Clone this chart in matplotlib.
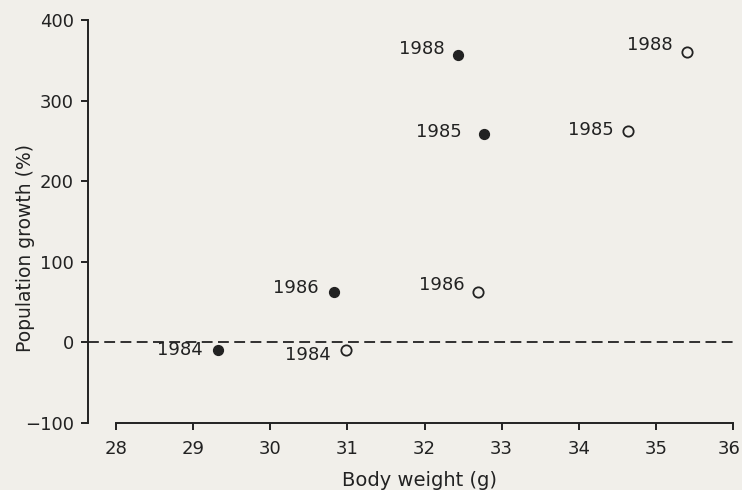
import matplotlib
matplotlib.use("Agg")
import matplotlib.pyplot as plt
from matplotlib.transforms import ScaledTranslation

plt.rcParams["font.family"] = ["DejaVu Sans"]

# body weight (g) and population growth (%) per year
years = ["1984", "1986", "1985", "1988"]
filled_weight = [29.32, 30.83, 32.77, 32.44]
filled_growth = [-10, 62, 258, 357]
open_weight = [30.98, 32.70, 34.64, 35.41]
open_growth = [-9, 62, 262, 360]

x_ticks = [28, 29, 30, 31, 32, 33, 34, 35, 36]
y_ticks = [-100, 0, 100, 200, 300, 400]

# label offsets in points (dx, dy) for filled / open points
filled_offsets = [(-11, 0), (-11, 3), (-16, 2), (-10, 4)]
open_offsets = [(-11, -4), (-10, 5), (-10, 1), (-11, 5)]

bg = "#f1efea"
ink = "#222222"
fs = 13

fig = plt.figure(figsize=(7.42, 4.90), dpi=100, facecolor=bg)
ax = fig.add_axes([88 / 742, 1 - 423 / 490, (733 - 88) / 742, (423 - 20) / 490])
ax.set_facecolor(bg)

ax.set_xlim(28 - 28 / 77.1, 36)
ax.set_ylim(-100, 400)

ax.axhline(0, color=ink, lw=1.3, linestyle=(0, (6, 3)), zorder=1)

ax.scatter(filled_weight, filled_growth, s=50, color=ink, zorder=3, clip_on=False)
ax.scatter(open_weight, open_growth, s=55, facecolor=bg, edgecolor=ink,
           linewidth=1.3, zorder=3, clip_on=False)

for yr, x, y, off in zip(years, filled_weight, filled_growth, filled_offsets):
    ax.annotate(yr, (x, y), xytext=off, textcoords="offset points",
                ha="right", va="center", fontsize=fs, color=ink)
for yr, x, y, off in zip(years, open_weight, open_growth, open_offsets):
    ax.annotate(yr, (x, y), xytext=off, textcoords="offset points",
                ha="right", va="center", fontsize=fs, color=ink)

for side in ["top", "right"]:
    ax.spines[side].set_visible(False)
ax.spines["left"].set_bounds(-100, 400)
ax.spines["bottom"].set_bounds(28, 36)
for side in ["left", "bottom"]:
    ax.spines[side].set_linewidth(1.4)
    ax.spines[side].set_color(ink)

ax.set_xticks(x_ticks)
ax.set_yticks(y_ticks)
ax.set_yticklabels([str(v).replace("-", "\u2212") if v < 0 else str(v) for v in y_ticks])
ax.tick_params(axis="both", direction="out", width=1.4, length=5, color=ink,
               labelsize=fs, labelcolor=ink)
ax.tick_params(axis="x", pad=7)
ax.tick_params(axis="y", pad=5)

# keep the last x tick label inside the figure
last = ax.get_xticklabels()[-1]
last.set_transform(last.get_transform() + ScaledTranslation(-4 / 100, 0, fig.dpi_scale_trans))

fig.text(420 / 742, 1 - 480 / 490, "Body weight (g)", fontsize=14, color=ink,
         ha="center", va="center")
fig.text(26 / 742, 1 - 248 / 490, "Population growth (%)", fontsize=13.5, color=ink,
         ha="center", va="center", rotation=90)

fig.savefig("out.png", dpi=100, facecolor=bg)
